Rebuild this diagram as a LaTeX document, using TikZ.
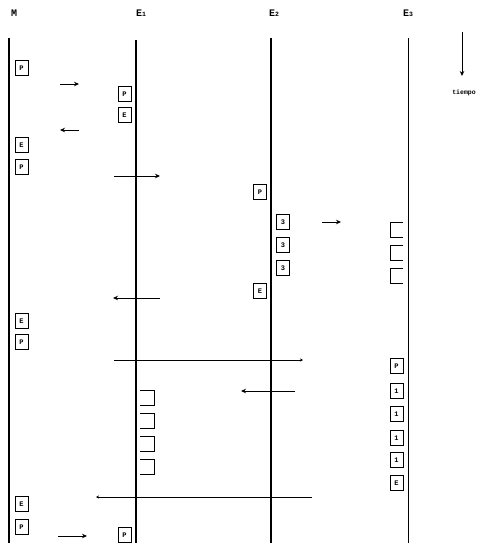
\documentclass[tikz,border=0pt]{standalone}
\usepackage{fontspec}
\setmonofont{Liberation Mono}
\usetikzlibrary{arrows.meta}
\begin{document}
\begin{tikzpicture}[x=1pt,y=-1pt,
  life/.style={line width=1.3pt},
  msg/.style={draw, line width=1pt, minimum width=13pt, minimum height=15pt, inner sep=0pt, font=\ttfamily\bfseries\fontsize{7}{7}\selectfont},
  head/.style={font=\ttfamily\bfseries\fontsize{10}{10}\selectfont, inner sep=0pt},
  sig/.style={line width=0.9pt, -{Stealth[length=5pt,width=4.5pt]}},
  bar/.style={line width=1pt},
  open/.style={line width=1pt}
]
\useasboundingbox (0,0) rectangle (496,543);
% headers
\node[head] (hM) at (14,13) {M};
\node[head] (hE1) at (141,13) {E{\fontsize{6.5}{6.5}\selectfont 1}};
\node[head] (hE2) at (274,13) {E{\fontsize{6.5}{6.5}\selectfont 2}};
\node[head] (hE3) at (408,13) {E{\fontsize{6.5}{6.5}\selectfont 3}};
% lifelines
\coordinate (mt) at (9,38); \coordinate (mb) at (9,543);
\coordinate (e1t) at (136,40); \coordinate (e1b) at (136,543);
\coordinate (e2t) at (271,38); \coordinate (e2b) at (271,543);
\coordinate (e3t) at (408,38); \coordinate (e3b) at (408,543);
\draw[life] (mt) -- (mb);
\draw[life] (e1t) -- (e1b);
\draw[life] (e2t) -- (e2b);
\draw[line width=0.9pt] (e3t) -- (e3b);
% tiempo
\coordinate (tt) at (462,32); \coordinate (tb) at (462,76);
\draw[line width=1pt, -{Stealth[length=5pt,width=4.5pt]}] (tt) -- (tb);
\node[font=\ttfamily\bfseries\fontsize{6.5}{6.5}\selectfont, inner sep=0pt] (tiempo) at (464,93) {tiempo};
% M boxes
\node[msg] (m1) at (21.5,68) {P};
\node[msg] (m2) at (21.5,145) {E};
\node[msg] (m3) at (21.5,167) {P};
\node[msg] (m4) at (21.5,321) {E};
\node[msg] (m5) at (21.5,342) {P};
\node[msg] (m6) at (21.5,504) {E};
\node[msg] (m7) at (21.5,527) {P};
% E1 boxes
\node[msg] (a1) at (124.5,94) {P};
\node[msg] (a2) at (124.5,115) {E};
\node[msg] (a3) at (124.5,535) {P};
% E2 boxes
\node[msg] (b1) at (260,192) {P};
\node[msg] (b2) at (283,222) {3};
\node[msg] (b3) at (283,245) {3};
\node[msg] (b4) at (283,268) {3};
\node[msg] (b5) at (260,291) {E};
% E3 boxes
\node[msg] (c1) at (396.5,366) {P};
\node[msg] (c2) at (396.5,391) {1};
\node[msg] (c3) at (396.5,414) {1};
\node[msg] (c4) at (396.5,438) {1};
\node[msg] (c5) at (396.5,460) {1};
\node[msg] (c6) at (396.5,483) {E};
% open slots on E1 (])
\foreach \y in {390,413,436,459} {
  \draw[open] (140,\y) -- (154,\y) -- (154,\y+15) -- (140,\y+15);
}
% open slots on E3 ([)
\foreach \y in {222,245,268} {
  \draw[open] (403,\y) -- (390,\y) -- (390,\y+15) -- (403,\y+15);
}
% arrows M <-> E1
\coordinate (r1s) at (60,84); \coordinate (r1e) at (79,84);
\draw[sig] (r1s) -- (r1e);
\coordinate (l1s) at (79,130); \coordinate (l1e) at (60,130);
\draw[sig] (l1s) -- (l1e);
\coordinate (r2s) at (58,536); \coordinate (r2e) at (87,536);
\draw[sig] (r2s) -- (r2e);
% arrows across E1
\coordinate (r3s) at (114,176); \coordinate (r3e) at (160,176);
\draw[sig] (r3s) -- (r3e);
\coordinate (l3s) at (160,298); \coordinate (l3e) at (113,298);
\draw[sig] (l3s) -- (l3e);
% long lines
\coordinate (h1s) at (114,360); \coordinate (h1e) at (303,360);
\draw[bar, -{Stealth[length=3pt,width=3pt]}] (h1s) -- (h1e);
\coordinate (h2s) at (312,497); \coordinate (h2e) at (96,497);
\draw[bar, -{Stealth[length=3pt,width=3pt]}] (h2s) -- (h2e);
% arrow across E2
\coordinate (l4s) at (295,391); \coordinate (l4e) at (241,391);
\draw[sig] (l4s) -- (l4e);
% arrow E2 -> E3
\coordinate (r5s) at (322,222); \coordinate (r5e) at (341,222);
\draw[sig] (r5s) -- (r5e);
\end{tikzpicture}
\end{document}
